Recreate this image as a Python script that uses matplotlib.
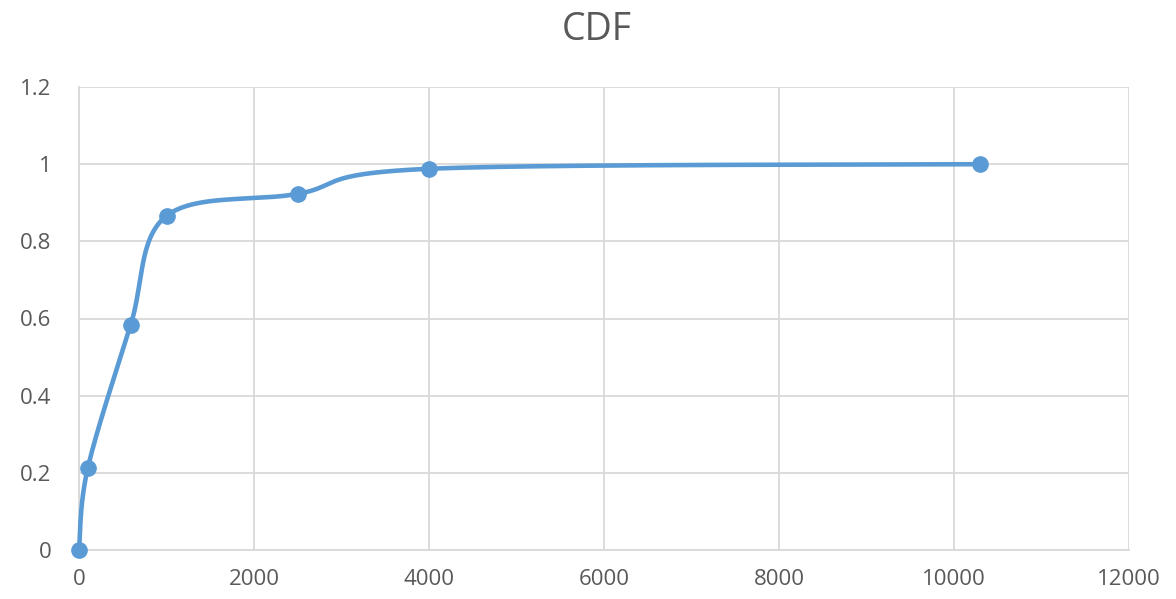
import numpy as np
import matplotlib.pyplot as plt

# CDF points
x_vals = [0, 100, 590, 1000, 2500, 4000, 10300]
y_vals = [0, 0.212, 0.583, 0.866, 0.923, 0.988, 1.0]

x_ticks = [0, 2000, 4000, 6000, 8000, 10000, 12000]
y_ticks = [0, 0.2, 0.4, 0.6, 0.8, 1.0, 1.2]
y_labels = ['0', '0.2', '0.4', '0.6', '0.8', '1', '1.2']

blue = '#5B9BD5'
grid_c = '#D9D9D9'
text_c = '#595959'

plt.rcParams['font.family'] = ['Open Sans', 'DejaVu Sans']

fig = plt.figure(figsize=(11.76, 5.99), dpi=100)
ax = fig.add_axes([79 / 1176, 1 - 550 / 599, 1050 / 1176, 463 / 599])
ax.set_xlim(0, 12000)
ax.set_ylim(0, 1.2)


def smooth(xs, ys, n=60):
    # Excel-style smoothed line: cubic bezier with catmull-rom control points,
    # computed in pixel space so the shape doesn't depend on axis scales
    sx = 1050 / 12000
    sy = 463 / 1.2
    p = np.column_stack([np.array(xs) * sx, np.array(ys) * sy])
    pts = np.vstack([p[0], p, p[-1]])
    out = []
    t = np.linspace(0, 1, n)[:, None]
    for i in range(1, len(pts) - 2):
        p0, p1, p2, p3 = pts[i - 1], pts[i], pts[i + 1], pts[i + 2]
        c1 = p1 + (p2 - p0) / 6
        c2 = p2 - (p3 - p1) / 6
        seg = ((1 - t) ** 3) * p1 + 3 * ((1 - t) ** 2) * t * c1 \
            + 3 * (1 - t) * t ** 2 * c2 + t ** 3 * p2
        out.append(seg)
    c = np.vstack(out)
    return c[:, 0] / sx, c[:, 1] / sy


cx, cy = smooth(x_vals, y_vals)
ax.plot(cx, cy, color=blue, lw=3.3, solid_capstyle='round', clip_on=False, zorder=3)
ax.plot(x_vals, y_vals, 'o', color=blue, ms=11, clip_on=False, zorder=4)

ax.set_xticks(x_ticks)
ax.set_yticks(y_ticks)
ax.set_yticklabels(y_labels)
ax.grid(True, color=grid_c, lw=1.3)
ax.set_axisbelow(True)
for s in ax.spines.values():
    s.set_visible(False)
ax.spines['left'].set_visible(True)
ax.spines['bottom'].set_visible(True)
ax.spines['left'].set_color(grid_c)
ax.spines['bottom'].set_color(grid_c)
ax.spines['left'].set_linewidth(1.3)
ax.spines['bottom'].set_linewidth(1.3)
ax.tick_params(length=0, labelsize=16, labelcolor=text_c)
ax.tick_params(axis='x', pad=14)
ax.tick_params(axis='y', pad=20)

fig.text(597 / 1176, 1 - 30 / 599, 'CDF', ha='center', va='center', fontsize=27, color=text_c)

fig.savefig('out.png', dpi=100, facecolor='white')
